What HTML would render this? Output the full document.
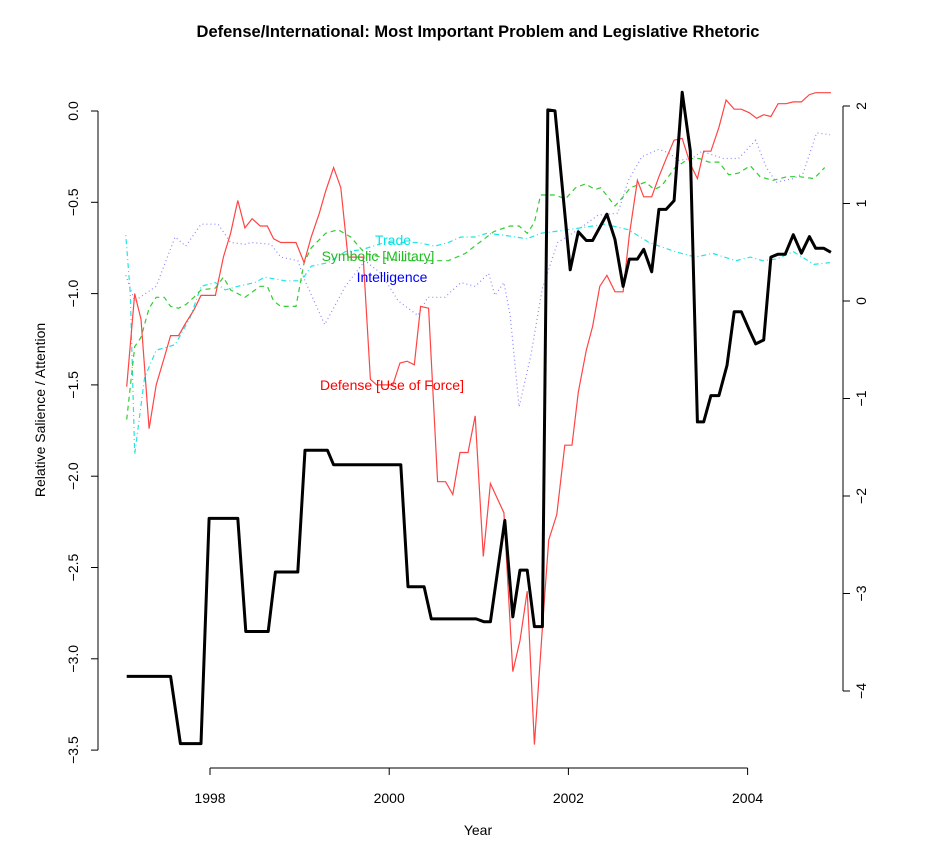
<!DOCTYPE html>
<html><head><meta charset="utf-8"><style>
body{margin:0;background:#fff;}
svg text{font-family:"Liberation Sans",sans-serif;}
</style></head><body>
<svg id="chart" width="925" height="851" xmlns="http://www.w3.org/2000/svg">
<text x="478" y="37" text-anchor="middle" font-size="16.5" font-weight="bold">Defense/International: Most Important Problem and Legislative Rhetoric</text>
<text x="478" y="835" text-anchor="middle" font-size="14">Year</text>
<text transform="translate(45,410) rotate(-90)" text-anchor="middle" font-size="14">Relative Salience / Attention</text>
<g id="axes"></g>
<g id="series"></g>
<text x="393" y="245" text-anchor="middle" font-size="14" fill="#00e5e5">Trade</text>
<text x="378" y="261" text-anchor="middle" font-size="14" fill="#22bb22">Symbolic [Military]</text>
<text x="392" y="282" text-anchor="middle" font-size="14" fill="#0000ff">Intelligence</text>
<text x="392" y="390" text-anchor="middle" font-size="14" fill="#ff0000">Defense [Use of Force]</text>
</svg>
<script>
const xTicks=[1998,2000,2002,2004];
const leftTicks=[0,-0.5,-1,-1.5,-2,-2.5,-3,-3.5];
const rightTicks=[2,1,0,-1,-2,-3,-4];
const mipYears=[1997.07,1997.56,1997.67,1997.90,1997.99,1998.31,1998.40,1998.65,1998.73,1998.98,1999.06,1999.31,1999.38,2000.13,2000.21,2000.39,2000.47,2000.97,2001.06,2001.13,2001.29,2001.38,2001.46,2001.54,2001.62,2001.71,2001.77,2001.85,2002.02,2002.11,2002.20,2002.27,2002.43,2002.52,2002.61,2002.68,2002.77,2002.84,2002.93,2003.01,2003.09,2003.18,2003.27,2003.36,2003.44,2003.51,2003.59,2003.68,2003.77,2003.85,2003.93,2004.02,2004.09,2004.18,2004.26,2004.34,2004.42,2004.51,2004.60,2004.69,2004.76,2004.85,2004.93];
const mipValues=[-3.85,-3.85,-4.54,-4.54,-2.23,-2.23,-3.39,-3.39,-2.78,-2.78,-1.53,-1.53,-1.68,-1.68,-2.93,-2.93,-3.26,-3.26,-3.29,-3.29,-2.25,-3.24,-2.76,-2.76,-3.34,-3.34,1.96,1.95,0.32,0.71,0.62,0.62,0.89,0.63,0.15,0.43,0.43,0.53,0.30,0.94,0.94,1.03,2.14,1.54,-1.24,-1.24,-0.97,-0.97,-0.66,-0.11,-0.11,-0.30,-0.44,-0.40,0.45,0.48,0.48,0.68,0.49,0.66,0.54,0.54,0.50];
const defYears=[1997.07,1997.16,1997.23,1997.32,1997.40,1997.49,1997.56,1997.65,1997.73,1997.82,1997.90,1998.06,1998.15,1998.23,1998.31,1998.39,1998.47,1998.56,1998.64,1998.71,1998.79,1998.96,1999.05,1999.13,1999.22,1999.29,1999.38,1999.46,1999.54,1999.71,1999.79,1999.86,2000.04,2000.12,2000.20,2000.28,2000.35,2000.44,2000.54,2000.63,2000.71,2000.79,2000.88,2000.96,2001.05,2001.13,2001.28,2001.38,2001.46,2001.54,2001.62,2001.71,2001.78,2001.87,2001.96,2002.04,2002.11,2002.20,2002.27,2002.35,2002.43,2002.52,2002.61,2002.68,2002.77,2002.84,2002.93,2003.01,2003.10,2003.18,2003.27,2003.36,2003.44,2003.51,2003.59,2003.68,2003.76,2003.85,2003.93,2004.02,2004.10,2004.18,2004.26,2004.34,2004.43,2004.51,2004.60,2004.69,2004.76,2004.85,2004.93];
const defValues=[-1.51,-1.00,-1.14,-1.74,-1.50,-1.35,-1.23,-1.23,-1.16,-1.09,-1.01,-1.01,-0.80,-0.67,-0.49,-0.64,-0.59,-0.63,-0.63,-0.70,-0.72,-0.72,-0.83,-0.69,-0.56,-0.44,-0.31,-0.42,-0.80,-0.80,-1.47,-1.50,-1.50,-1.38,-1.37,-1.39,-1.07,-1.08,-2.03,-2.03,-2.10,-1.87,-1.87,-1.67,-2.44,-2.04,-2.20,-3.07,-2.90,-2.63,-3.47,-2.83,-2.35,-2.21,-1.83,-1.83,-1.54,-1.31,-1.18,-0.96,-0.90,-0.99,-0.99,-0.68,-0.38,-0.47,-0.47,-0.36,-0.25,-0.16,-0.15,-0.29,-0.37,-0.22,-0.22,-0.09,0.06,0.01,0.01,-0.01,-0.04,-0.02,-0.03,0.04,0.04,0.05,0.05,0.09,0.10,0.10,0.10];
const milYears=[1997.07,1997.16,1997.23,1997.32,1997.40,1997.49,1997.56,1997.65,1997.73,1997.82,1997.90,1998.06,1998.15,1998.23,1998.39,1998.56,1998.64,1998.71,1998.79,1998.96,1999.05,1999.13,1999.29,1999.43,1999.57,1999.73,1999.91,2000.10,2000.66,2000.85,2000.98,2001.17,2001.35,2001.45,2001.54,2001.62,2001.69,2001.84,2001.97,2002.08,2002.19,2002.30,2002.36,2002.52,2002.63,2002.69,2002.86,2002.96,2003.04,2003.19,2003.35,2003.46,2003.57,2003.68,2003.79,2003.90,2004.03,2004.14,2004.28,2004.44,2004.58,2004.74,2004.86];
const milValues=[-1.69,-1.29,-1.24,-1.08,-1.02,-1.02,-1.07,-1.08,-1.06,-1.02,-0.98,-0.97,-0.91,-0.98,-1.02,-0.96,-0.96,-1.04,-1.07,-1.07,-0.83,-0.75,-0.67,-0.65,-0.69,-0.78,-0.80,-0.82,-0.82,-0.78,-0.73,-0.66,-0.63,-0.63,-0.67,-0.61,-0.46,-0.46,-0.48,-0.42,-0.40,-0.43,-0.42,-0.52,-0.46,-0.42,-0.39,-0.43,-0.41,-0.31,-0.26,-0.26,-0.28,-0.28,-0.35,-0.34,-0.30,-0.36,-0.38,-0.36,-0.36,-0.37,-0.31];
const tradeYears=[1997.06,1997.11,1997.16,1997.27,1997.40,1997.61,1997.78,1997.90,1998.06,1998.17,1998.31,1998.50,1998.61,1998.84,1999.02,1999.13,1999.32,1999.51,1999.69,1999.95,2000.32,2000.51,2000.66,2000.80,2000.96,2001.09,2001.28,2001.54,2001.69,2002.00,2002.41,2002.67,2002.90,2003.19,2003.42,2003.61,2003.87,2004.03,2004.17,2004.33,2004.51,2004.74,2004.92];
const tradeValues=[-0.68,-1.00,-1.88,-1.46,-1.31,-1.28,-1.13,-0.96,-0.94,-0.98,-0.96,-0.94,-0.91,-0.93,-0.93,-0.85,-0.83,-0.77,-0.76,-0.72,-0.72,-0.74,-0.72,-0.69,-0.69,-0.67,-0.68,-0.70,-0.67,-0.65,-0.62,-0.65,-0.72,-0.77,-0.80,-0.78,-0.82,-0.80,-0.82,-0.81,-0.77,-0.84,-0.83];
const intelYears=[1997.06,1997.16,1997.40,1997.61,1997.73,1997.90,1998.09,1998.23,1998.39,1998.46,1998.68,1998.79,1998.98,1999.06,1999.28,1999.51,1999.73,1999.91,2000.10,2000.32,2000.43,2000.62,2000.80,2000.96,2001.11,2001.18,2001.28,2001.35,2001.45,2001.58,2001.71,2001.88,2002.11,2002.33,2002.55,2002.67,2002.82,2003.01,2003.12,2003.23,2003.38,2003.49,2003.73,2003.90,2004.09,2004.21,2004.32,2004.51,2004.62,2004.77,2004.92];
const intelValues=[-0.90,-1.04,-0.96,-0.69,-0.74,-0.62,-0.62,-0.72,-0.73,-0.72,-0.73,-0.80,-0.82,-0.93,-1.17,-0.96,-0.82,-0.89,-1.04,-1.12,-1.02,-1.02,-0.94,-0.96,-0.89,-1.01,-0.94,-1.12,-1.62,-1.34,-0.97,-0.72,-0.65,-0.57,-0.56,-0.38,-0.25,-0.21,-0.23,-0.27,-0.26,-0.22,-0.26,-0.26,-0.16,-0.31,-0.39,-0.37,-0.34,-0.12,-0.13];

const NS="http://www.w3.org/2000/svg";
function xs(y){return 210+(y-1998)*89.6;}
function ysL(v){return 111-v*182.6;}
function ysR(v){return 106+(2-v)*97.5;}
function mk(tag,attrs,parent){const e=document.createElementNS(NS,tag);for(const k in attrs)e.setAttribute(k,attrs[k]);parent.appendChild(e);return e;}
const axes=document.getElementById('axes');
let a=mk('line',{x1:xs(1998),x2:xs(2004),y1:768,y2:768,stroke:'#000'},axes);


xTicks.forEach(t=>{
  const l=mk('line',{x1:xs(t),x2:xs(t),y1:768,y2:775,stroke:'#000'},axes);
  
  
  const tx=mk('text',{x:xs(t),y:803,'text-anchor':'middle','font-size':14},axes);tx.textContent=t;
  
  
});
a=mk('line',{x1:98,x2:98,y1:ysL(0),y2:ysL(-3.5),stroke:'#000'},axes);


leftTicks.forEach(t=>{
  const l=mk('line',{x1:91,x2:98,y1:ysL(t),y2:ysL(t),stroke:'#000'},axes);
  
  
  const tx=mk('text',{transform:`translate(78,${ysL(t)}) rotate(-90)`,'text-anchor':'middle','font-size':14},axes);tx.textContent=t.toFixed(1).replace('-','\u2212');
  
  
});
a=mk('line',{x1:843,x2:843,y1:ysR(2),y2:ysR(-4),stroke:'#000'},axes);


rightTicks.forEach(t=>{
  const l=mk('line',{x1:843,x2:850,y1:ysR(t),y2:ysR(t),stroke:'#000'},axes);
  
  
  const tx=mk('text',{transform:`translate(866,${ysR(t)}) rotate(-90)`,'text-anchor':'middle','font-size':14},axes);tx.textContent=String(t).replace('-','\u2212');
  
  
});
const ser=document.getElementById('series');
function line(xsArr,vs,yf,style,name){
  const d=xsArr.map((x,i)=>(i?'L':'M')+xs(x).toFixed(1)+','+yf(vs[i]).toFixed(1)).join(' ');
  const p=mk('path',Object.assign({d:d,fill:'none'},style),ser);
  
  
}
line(tradeYears,tradeValues,ysL,{stroke:'#22e5e5','stroke-width':1.2,'stroke-dasharray':'1,3,5,3'},'trade-line');
line(intelYears,intelValues,ysL,{stroke:'#8888ff','stroke-width':1.2,'stroke-dasharray':'1,3'},'intelligence-line');
line(milYears,milValues,ysL,{stroke:'#33cc33','stroke-width':1.2,'stroke-dasharray':'5,4'},'symbolic-military-line');
line(defYears,defValues,ysL,{stroke:'#ff4444','stroke-width':1.2},'defense-use-of-force-line');
line(mipYears,mipValues,ysR,{stroke:'#000','stroke-width':3,'stroke-linejoin':'round'},'most-important-problem-line');
</script>
</body></html>
